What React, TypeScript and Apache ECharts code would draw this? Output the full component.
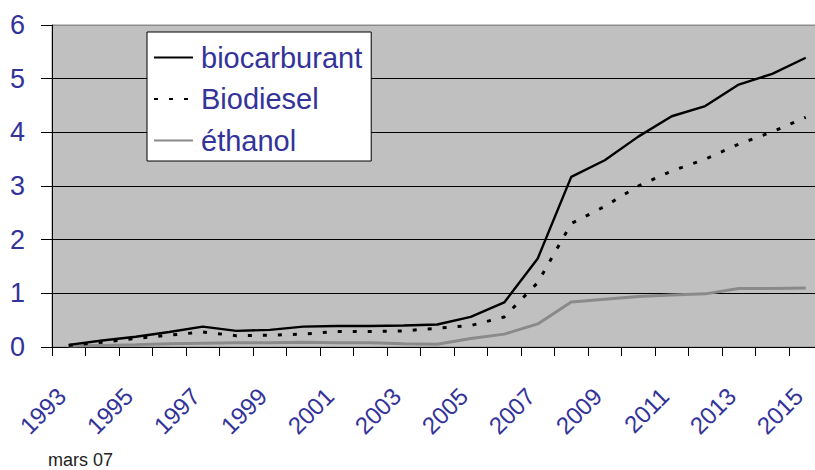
import React, { useEffect, useRef } from "react";
import * as echarts from "echarts";

const years = [
  "1993", "1994", "1995", "1996", "1997", "1998", "1999", "2000", "2001", "2002", "2003", "2004",
  "2005", "2006", "2007", "2008", "2009", "2010", "2011", "2012", "2013", "2014", "2015",
];
const biocarburant = [
  0.04, 0.12, 0.19, 0.28, 0.38, 0.3, 0.32, 0.38, 0.39, 0.39, 0.4, 0.42,
  0.56, 0.83, 1.65, 3.17, 3.48, 3.92, 4.3, 4.49, 4.89, 5.09, 5.39,
];
const biodiesel = [
  0.03, 0.09, 0.16, 0.22, 0.28, 0.21, 0.22, 0.24, 0.29, 0.29, 0.3, 0.35,
  0.4, 0.56, 1.2, 2.3, 2.62, 3.0, 3.28, 3.5, 3.78, 4.01, 4.28,
];
const ethanol = [
  0.02, 0.03, 0.04, 0.06, 0.07, 0.08, 0.08, 0.09, 0.08, 0.08, 0.06, 0.05,
  0.16, 0.24, 0.43, 0.84, 0.89, 0.94, 0.97, 0.99, 1.09, 1.09, 1.1,
];
const seriesNames = ["biocarburant", "Biodiesel", "éthanol"];
const yTicks = [0, 6, 1];
const footnote = "mars 07";

const FONT = "'Liberation Sans', Arial, sans-serif";
const BLUE = "#333399";

export default function App() {
  const ref = useRef<HTMLDivElement>(null);
  useEffect(() => {
    if (!ref.current) return;
    const chart = echarts.init(ref.current, null, { renderer: "svg" });
    chart.setOption({
      animation: false,
      backgroundColor: "#ffffff",
      textStyle: { fontFamily: FONT },
      grid: {
        left: 52,
        top: 25,
        width: 770.5,
        height: 322,
        show: true,
        backgroundColor: "#c0c0c0",
        borderColor: "#8c8c8c",
        borderWidth: 1,
      },
      legend: {
        orient: "vertical",
        left: 147,
        top: 32,
        itemWidth: 39,
        itemHeight: 14,
        itemGap: 12.5,
        padding: [11, 9, 6, 6],
        backgroundColor: "#ffffff",
        borderColor: "#000000",
        borderWidth: 1,
        borderRadius: 0,
        itemStyle: { opacity: 0 },
        textStyle: { color: BLUE, fontSize: 29, fontFamily: FONT, padding: [0, 0, 0, 3] },
        data: seriesNames,
      },
      xAxis: {
        type: "category",
        data: years,
        boundaryGap: true,
        axisLine: { show: true, lineStyle: { color: "#000", width: 1 } },
        axisTick: { show: true, interval: 0, length: 9, lineStyle: { color: "#000" } },
        axisLabel: {
          interval: 1,
          rotate: 45,
          margin: 38,
          color: BLUE,
          fontSize: 24,
          fontFamily: FONT,
          padding: [0, 10, 0, 0],
        },
        splitLine: { show: false },
      },
      yAxis: {
        type: "value",
        min: yTicks[0],
        max: yTicks[1],
        interval: yTicks[2],
        axisLine: { show: true, lineStyle: { color: "#000", width: 1 } },
        axisTick: { show: true, length: 11, lineStyle: { color: "#000" } },
        axisLabel: { color: BLUE, fontSize: 27, fontFamily: FONT, margin: 27 },
        splitLine: {
          show: true,
          lineStyle: {
            color: ["#000", "#000", "#000", "#000", "#000", "#000", "#8c8c8c"],
            width: 1,
          },
        },
      },
      series: [
        {
          name: seriesNames[0],
          type: "line",
          data: biocarburant,
          symbol: "none",
          z: 4,
          lineStyle: { color: "#000", width: 2.4 },
          itemStyle: { color: "#000" },
        },
        {
          name: seriesNames[1],
          type: "line",
          data: biodiesel,
          symbol: "none",
          z: 3,
          lineStyle: { color: "#000", width: 3, type: [4, 11] },
          itemStyle: { color: "#000" },
        },
        {
          name: seriesNames[2],
          type: "line",
          data: ethanol,
          symbol: "none",
          z: 2,
          lineStyle: { color: "#8a8a8a", width: 3 },
          itemStyle: { color: "#8a8a8a" },
        },
      ],
      graphic: [
        {
          type: "text",
          left: 48,
          top: 451,
          style: { text: footnote, fontSize: 18, fill: "#222222", fontFamily: FONT },
        },
      ],
    });
    return () => chart.dispose();
  }, []);
  return (
    <div style={{ position: "fixed", left: 0, top: 0, width: 815, height: 470, overflow: "hidden", background: "#fff" }}>
      <div ref={ref} style={{ width: 840, height: 470 }} />
    </div>
  );
}
